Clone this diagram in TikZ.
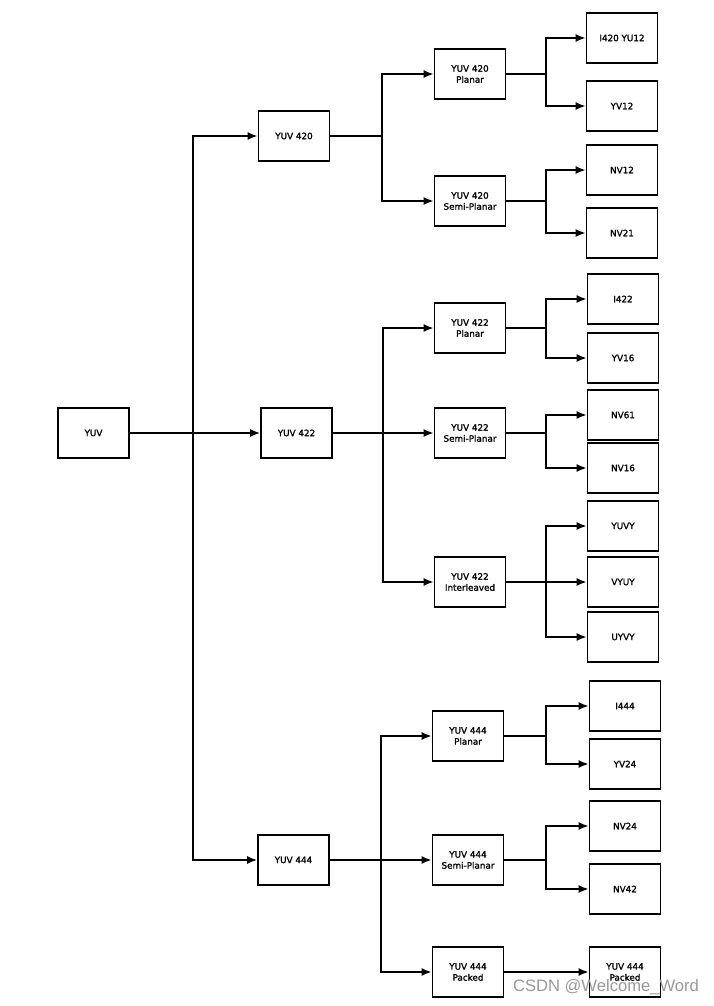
\documentclass[tikz,border=0pt]{standalone}
\usepackage{fontspec}
\setmainfont{DejaVu Sans}
\newfontfamily\boxfont{DejaVu Sans}[FakeBold=1.4]
\newfontfamily\wmfont{Liberation Sans}
\usetikzlibrary{arrows.meta}
\begin{document}
\begin{tikzpicture}[x=1pt,y=-1pt,
  box/.style={draw,line width=1.7pt,minimum width=71pt,minimum height=50pt,inner sep=1pt,align=center,font=\boxfont\fontsize{8.8}{11}\selectfont},
  conn/.style={line width=1.7pt},
  arr/.style={conn,-{Latex[length=10pt,width=8pt]}}]
\useasboundingbox (0,0) rectangle (714,1006);
\fill[white] (0,0) rectangle (714,1006);
% level 0/1
\node[box] (yuv) at (93.5,433) {YUV};
\node[box] (y420) at (294,136) {YUV 420};
\node[box] (y422) at (296.5,433) {YUV 422};
\node[box] (y444) at (293.5,860) {YUV 444};
% level 2
\node[box] (p420) at (470,74) {YUV 420\\Planar};
\node[box] (sp420) at (470,201) {YUV 420\\Semi-Planar};
\node[box] (p422) at (470,328) {YUV 422\\Planar};
\node[box] (sp422) at (470,433) {YUV 422\\Semi-Planar};
\node[box] (il422) at (470,582) {YUV 422\\Interleaved};
\node[box] (p444) at (468,736) {YUV 444\\Planar};
\node[box] (sp444) at (468,860) {YUV 444\\Semi-Planar};
\node[box] (pk444) at (468,972) {YUV 444\\Packed};
% level 3
\node[box] (i420) at (622,38) {I420 YU12};
\node[box] (yv12) at (622,106) {YV12};
\node[box] (nv12) at (622,170) {NV12};
\node[box] (nv21) at (622,233) {NV21};
\node[box] (i422) at (623,299) {I422};
\node[box] (yv16) at (623,358) {YV16};
\node[box] (nv61) at (623,415) {NV61};
\node[box] (nv16) at (623,468) {NV16};
\node[box] (yuvy) at (623,526) {YUVY};
\node[box] (vyuy) at (623,582) {VYUY};
\node[box] (uyvy) at (623,637) {UYVY};
\node[box] (i444) at (625,706) {I444};
\node[box] (yv24) at (625,764) {YV24};
\node[box] (nv24) at (625,826) {NV24};
\node[box] (nv42) at (625,889) {NV42};
\node[box] (pk444b) at (625,972) {YUV 444\\Packed};
% branch points
\coordinate (b0) at (193,433);
\coordinate (b420) at (382,136);
\coordinate (b422) at (383,433);
\coordinate (b444) at (381,860);
\coordinate (bp420) at (546,74);
\coordinate (bsp420) at (546,201);
\coordinate (bp422) at (546,328);
\coordinate (bsp422) at (546,433);
\coordinate (bil422) at (546,582);
\coordinate (bp444) at (546,736);
\coordinate (bsp444) at (546,860);
% connectors level 1
\draw[conn] (yuv.east) -- (b0);
\draw[arr] (b0) |- (y420.west);
\draw[arr] (b0) -- (y422.west);
\draw[arr] (b0) |- (y444.west);
% level 2
\draw[conn] (y420.east) -- (b420);
\draw[arr] (b420) |- (p420.west);
\draw[arr] (b420) |- (sp420.west);
\draw[conn] (y422.east) -- (b422);
\draw[arr] (b422) |- (p422.west);
\draw[arr] (b422) -- (sp422.west);
\draw[arr] (b422) |- (il422.west);
\draw[conn] (y444.east) -- (b444);
\draw[arr] (b444) |- (p444.west);
\draw[arr] (b444) -- (sp444.west);
\draw[arr] (b444) |- (pk444.west);
% level 3
\draw[conn] (p420.east) -- (bp420);
\draw[arr] (bp420) |- (i420.west);
\draw[arr] (bp420) |- (yv12.west);
\draw[conn] (sp420.east) -- (bsp420);
\draw[arr] (bsp420) |- (nv12.west);
\draw[arr] (bsp420) |- (nv21.west);
\draw[conn] (p422.east) -- (bp422);
\draw[arr] (bp422) |- (i422.west);
\draw[arr] (bp422) |- (yv16.west);
\draw[conn] (sp422.east) -- (bsp422);
\draw[arr] (bsp422) |- (nv61.west);
\draw[arr] (bsp422) |- (nv16.west);
\draw[conn] (il422.east) -- (bil422);
\draw[arr] (bil422) |- (yuvy.west);
\draw[arr] (bil422) -- (vyuy.west);
\draw[arr] (bil422) |- (uyvy.west);
\draw[conn] (p444.east) -- (bp444);
\draw[arr] (bp444) |- (i444.west);
\draw[arr] (bp444) |- (yv24.west);
\draw[conn] (sp444.east) -- (bsp444);
\draw[arr] (bsp444) |- (nv24.west);
\draw[arr] (bsp444) |- (nv42.west);
\draw[arr] (pk444.east) -- (pk444b.west);
% watermark
\node[text=black!40,font=\wmfont\fontsize{16.6}{16.6}\selectfont,inner sep=0pt] (wm) at (606,987) {CSDN @Welcome\_Word};
\end{tikzpicture}
\end{document}
